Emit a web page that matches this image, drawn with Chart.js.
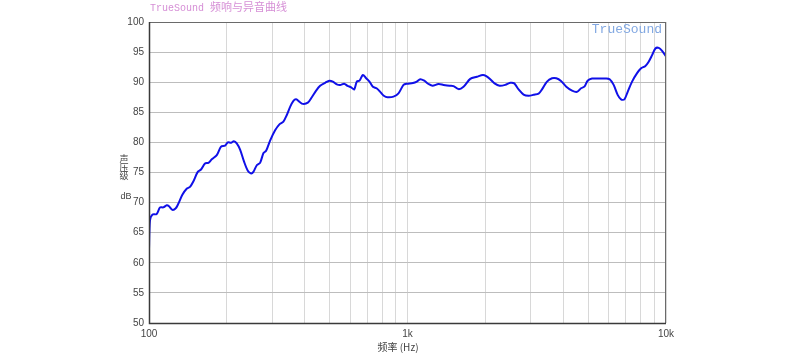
<!DOCTYPE html>
<html>
<head>
<meta charset="utf-8">
<script src="https://cdn.jsdelivr.net/npm/chart.js@4"></script>
<style>
  html, body { margin: 0; padding: 0; background: #fff; }
  canvas { display: block; }
</style>
</head>
<body>
<canvas id="chartFR" width="800" height="359"></canvas>
<script>
(() => {
  "use strict";

// frequency (Hz) and SPL (dB)
const freqs = [
  100, 100.9, 103, 107.1, 110.3, 113.6, 117.1, 119.5, 123.1, 126.9,
  129.8, 134.6, 139.9, 144.1, 148.4, 154.4, 159, 164.7, 169.7, 174.9,
  182.9, 190, 196.9, 201.7, 207.7, 212.8, 218.5, 225.1, 233.2, 241.1,
  248.3, 253.4, 261.2, 269, 277, 283.8, 294.1, 307.5, 319.5, 331.1,
  341.3, 351.5, 362, 370.8, 381.8, 393.6, 411.5, 426.5, 443.1, 459.2,
  480.2, 498.9, 514.3, 532.9, 548.9, 568.8, 585.8, 605.4, 621.8, 637,
  651.9, 672, 692, 712.7, 734.6, 761.3, 784, 812.5, 836.7, 882.7,
  922.9, 965, 994.7, 1049, 1087, 1120, 1161, 1206, 1250, 1318,
  1378, 1454, 1507, 1576, 1647, 1749, 1856, 1958, 2017, 2090,
  2172, 2271, 2389, 2498, 2589, 2690, 2812, 2941, 3075, 3215,
  3314, 3465, 3623, 3764, 3925, 4115, 4330, 4527, 4692, 4832,
  4976, 5175, 5489, 5826, 6054, 6274, 6501, 6701, 6902, 7108,
  7392, 7729, 8010, 8323, 8571, 8835, 9099, 9370, 9659, 10000
];
const spl = [
  62.3, 67.1, 68.0, 68.1, 69.2, 69.2, 69.55, 69.4, 68.8, 69.05,
  69.8, 71.3, 72.3, 72.6, 73.5, 75.1, 75.5, 76.5, 76.6, 77.2,
  77.9, 79.3, 79.45, 80.0, 79.95, 80.2, 79.85, 78.8, 76.8, 75.3,
  74.85, 75.1, 76.2, 76.6, 78.2, 78.6, 80.3, 82.0, 83.0, 83.45,
  84.55, 85.9, 86.9, 87.15, 86.75, 86.4, 86.6, 87.5, 88.6, 89.4,
  89.9, 90.25, 90.1, 89.65, 89.55, 89.75, 89.4, 89.15, 88.8, 90.1,
  90.25, 91.2, 90.65, 90.1, 89.25, 88.95, 88.4, 87.7, 87.5, 87.6,
  88.15, 89.55, 89.75, 89.85, 90.1, 90.5, 90.25, 89.7, 89.4, 89.7,
  89.55, 89.4, 89.35, 88.85, 89.25, 90.55, 90.9, 91.2, 91.0, 90.5,
  89.8, 89.4, 89.55, 89.9, 89.8, 88.8, 87.95, 87.75, 87.9, 88.1,
  88.8, 90.1, 90.65, 90.65, 90.2, 89.25, 88.6, 88.4, 89.0, 89.25,
  90.25, 90.6, 90.6, 90.6, 90.5, 89.55, 87.9, 87.15, 87.15, 88.4,
  90.1, 91.5, 92.3, 92.7, 93.4, 94.5, 95.6, 95.7, 95.2, 94.3
];

// grid lines on the x axis, labels only on the decades
const xGrid = [100, 200, 300, 400, 500, 600, 700, 800, 900,
  1000, 2000, 3000, 4000, 5000, 6000, 7000, 8000, 9000, 10000];
const xLabels = { 100: "100", 1000: "1k", 10000: "10k" };
const yTicks = [50, 55, 60, 65, 70, 75, 80, 85, 90, 95, 100];

const TITLE_BRAND = "TrueSound";
const TITLE_TEXT = "频响与异音曲线";
const WATERMARK = "TrueSound";
const Y_TITLE = ["声", "压", "级"];
const Y_UNIT = "dB";
const X_TITLE = "频率 (Hz)";

const points = freqs.map((f, i) => ({ x: f, y: spl[i] }));

// texts and frame around the plot
const decorPlugin = {
  id: "decor",
  afterDraw(chart) {
    const { ctx, chartArea: a } = chart;
    ctx.save();

    ctx.strokeStyle = "#6a6a6a";
    ctx.lineWidth = 1;
    ctx.strokeRect(a.left + 0.5, a.top + 0.5, a.right - a.left - 1, a.bottom - a.top);
    // left and bottom axis a bit heavier
    ctx.strokeStyle = "#3a3a3a";
    ctx.lineWidth = 1.5;
    ctx.beginPath();
    ctx.moveTo(a.left + 0.5, a.top);
    ctx.lineTo(a.left + 0.5, a.bottom + 0.5);
    ctx.lineTo(a.right, a.bottom + 0.5);
    ctx.stroke();

    ctx.textBaseline = "middle";
    ctx.textAlign = "left";
    ctx.fillStyle = "#d68fd6";
    ctx.font = "10px 'Liberation Mono', monospace";
    ctx.fillText(TITLE_BRAND, 150, 8);
    ctx.font = "11px 'Noto Sans CJK SC', sans-serif";
    ctx.fillText(TITLE_TEXT, 210, 7);

    ctx.fillStyle = "#82a8e2";
    ctx.font = "13px 'Liberation Mono', monospace";
    ctx.textAlign = "right";
    ctx.fillText(WATERMARK, a.right - 4, a.top + 8);

    ctx.fillStyle = "#444";
    ctx.textAlign = "center";
    ctx.font = "9px 'Noto Sans CJK SC', sans-serif";
    Y_TITLE.forEach((ch, i) => ctx.fillText(ch, 124, 159 + i * 8.5));
    ctx.font = "9px 'Liberation Sans', Arial, sans-serif";
    ctx.fillText(Y_UNIT, 126, 197);

    ctx.font = "10px 'Noto Sans CJK SC', sans-serif";
    ctx.fillText(X_TITLE, 398, 347);

    ctx.restore();
  }
};

const ctxFR = document.getElementById("chartFR");

new Chart(ctxFR, {
  type: "line",
  data: {
    datasets: [{
      data: points,
      borderColor: "#1010e8",
      borderWidth: 2,
      pointRadius: 0,
      tension: 0.3,
      fill: false
    }]
  },
  options: {
    responsive: false,
    animation: false,
    layout: { padding: { left: 0, top: 22, right: 134, bottom: 0 } },
    plugins: {
      legend: { display: false },
      tooltip: { enabled: false }
    },
    scales: {
      x: {
        type: "logarithmic",
        min: 100,
        max: 10000,
        afterBuildTicks: (s) => { s.ticks = xGrid.map(v => ({ value: v })); },
        afterFit: (s) => { s.height = 36; },
        border: { display: false },
        grid: { color: "#d8d8d8", lineWidth: 1, drawTicks: false },
        ticks: {
          autoSkip: false,
          maxRotation: 0,
          padding: 5,
          color: "#444",
          font: { family: "'Liberation Sans', Arial, sans-serif", size: 10 },
          callback: (v) => xLabels[v] || ""
        }
      },
      y: {
        min: 50,
        max: 100,
        afterBuildTicks: (s) => { s.ticks = yTicks.map(v => ({ value: v })); },
        afterFit: (s) => { s.width = 149; },
        border: { display: false },
        grid: { color: "#bdbdbd", lineWidth: 1, drawTicks: false },
        ticks: {
          padding: 5,
          color: "#444",
          font: { family: "'Liberation Sans', Arial, sans-serif", size: 10 }
        }
      }
    }
  },
  plugins: [decorPlugin]
});
})();
</script>
</body>
</html>
